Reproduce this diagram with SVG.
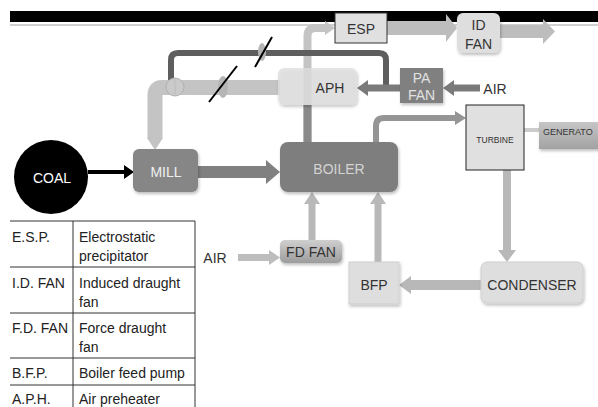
<svg xmlns="http://www.w3.org/2000/svg" width="598" height="407" viewBox="0 0 598 407">
<defs>
<style>
text{font-family:"Liberation Sans",Arial,sans-serif;font-size:14px;fill:#333;text-anchor:middle;dominant-baseline:central}
.tt{text-anchor:start;font-size:14px;fill:#222}
.tl{stroke:#333;stroke-width:1}
</style>
<linearGradient id="gfd" x1="0" y1="0" x2="0" y2="1"><stop offset="0" stop-color="#cfcfcf"/><stop offset="1" stop-color="#9c9c9c"/></linearGradient>
<linearGradient id="ggen" x1="0" y1="0" x2="0" y2="1"><stop offset="0" stop-color="#c6c6c6"/><stop offset="1" stop-color="#a2a2a2"/></linearGradient>
<filter id="sh" x="-20%" y="-20%" width="140%" height="150%"><feDropShadow dx="1" dy="2" stdDeviation="1.5" flood-color="#000" flood-opacity="0.25"/></filter>
</defs>
<rect width="598" height="407" fill="#fff"/>
<rect x="10" y="11" width="588" height="11" fill="#000"/>
<rect x="10" y="24" width="588" height="2" fill="#d0d0d0"/>

<g id="connectors">
<path d="M307.5 142 V36 Q307.5 28 316 28 H326" stroke="#c4c4c4" stroke-width="8" fill="none"/>
<polygon points="325,21 335,28 325,35" fill="#c4c4c4"/>
<rect x="303.5" y="105" width="8" height="38" fill="#8a8a8a"/>
<rect x="387" y="21" width="60" height="14" fill="#bdbdbd"/>
<polygon points="446,14 457,28 446,42" fill="#bdbdbd"/>
<rect x="500" y="25" width="44" height="13" fill="#bdbdbd"/>
<polygon points="543,19 555,31.5 543,44" fill="#bdbdbd"/>
<path d="M386 86 V60 Q386 53 379 53 H178 Q171 53 171 60 V80" stroke="#5e5e5e" stroke-width="6" fill="none"/>
<path d="M280 87.5 H162 Q155 87.5 155 95 V139" stroke="#c4c4c4" stroke-width="15" fill="none"/>
<polygon points="147,138 163,138 155,150" fill="#c4c4c4"/>
<circle cx="175" cy="87" r="9" fill="#cacaca" stroke="#b0b0b0"/>
<line x1="175" y1="79" x2="175" y2="95" stroke="#b8b8b8" stroke-width="0.8"/>
<ellipse cx="223" cy="87" rx="5" ry="11" fill="#b5b5b5"/>
<line x1="209" y1="102" x2="237" y2="66" stroke="#000" stroke-width="2"/>
<ellipse cx="262" cy="52" rx="4" ry="9" fill="#b5b5b5"/>
<line x1="255" y1="67" x2="272" y2="37" stroke="#000" stroke-width="2"/>
<line x1="88" y1="172" x2="126" y2="172" stroke="#000" stroke-width="4"/>
<polygon points="124,165 134,172 124,179" fill="#000"/>
<rect x="198" y="166" width="70" height="12" fill="#808080"/>
<polygon points="266,160 280,172 266,184" fill="#808080"/>
<line x1="400" y1="88" x2="366" y2="88" stroke="#7a7a7a" stroke-width="7"/>
<polygon points="368,80 357,88 368,96" fill="#7a7a7a"/>
<line x1="480" y1="88" x2="452" y2="88" stroke="#7a7a7a" stroke-width="7"/>
<polygon points="454,80 443,88 454,96" fill="#7a7a7a"/>
<path d="M376 143 V126 Q376 118 384 118 H456" stroke="#959595" stroke-width="6" fill="none"/>
<polygon points="455,111 466,118 455,125" fill="#959595"/>
<line x1="515" y1="130" x2="540" y2="130" stroke="#cccccc" stroke-width="4"/>
<line x1="507" y1="170" x2="507" y2="251" stroke="#b8b8b8" stroke-width="8"/>
<polygon points="498,250 516,250 507,262" fill="#b8b8b8"/>
<line x1="482" y1="285" x2="410" y2="285" stroke="#b8b8b8" stroke-width="10"/>
<polygon points="411,276 399,285 411,294" fill="#b8b8b8"/>
<line x1="378" y1="263" x2="378" y2="203" stroke="#b8b8b8" stroke-width="7"/>
<polygon points="370,204 386,204 378,192" fill="#b8b8b8"/>
<line x1="312" y1="241" x2="312" y2="203" stroke="#b8b8b8" stroke-width="7"/>
<polygon points="304,204 320,204 312,192" fill="#b8b8b8"/>
<line x1="238" y1="257.5" x2="270" y2="257.5" stroke="#bdbdbd" stroke-width="7"/>
<polygon points="269,250 280,257.5 269,265" fill="#bdbdbd"/>
</g>

<g id="esp"><rect x="335" y="13" width="52" height="30" fill="#e0e0e0" stroke="#333" stroke-width="1"/><text x="361" y="29">ESP</text></g>
<g id="idfan"><rect x="457" y="13" width="43" height="40" rx="6" fill="#dedede" filter="url(#sh)"/><text x="478.5" y="25">ID</text><text x="478.5" y="44">FAN</text></g>
<g id="aph"><rect x="278" y="68" width="79" height="37" rx="6" fill="#dedede" fill-opacity="0.82" filter="url(#sh)"/><text x="330" y="88">APH</text></g>
<g id="pafan"><rect x="400" y="68" width="43" height="35" fill="#808080" filter="url(#sh)"/><text x="421.5" y="78" style="fill:#e2e2e2">PA</text><text x="421.5" y="95" style="fill:#e2e2e2">FAN</text></g>
<g id="air1"><text x="495" y="89">AIR</text></g>
<g id="coal"><circle cx="51" cy="177" r="37" fill="#000"/><text x="52" y="178" style="fill:#fff">COAL</text></g>
<g id="mill"><rect x="133" y="149" width="65" height="43" rx="6" fill="#868686" filter="url(#sh)"/><text x="166" y="172" style="fill:#f0f0f0">MILL</text></g>
<g id="boiler"><rect x="280" y="142" width="118" height="50" rx="8" fill="#7e7e7e" filter="url(#sh)"/><text x="339" y="169" style="fill:#d4d4d4">BOILER</text></g>
<g id="turbine"><rect x="466" y="105" width="58" height="65" fill="#e0e0e0" stroke="#222" stroke-width="1"/><text x="495" y="140" style="font-size:8.5px">TURBINE</text></g>
<g id="generator"><rect x="539" y="122" width="62" height="27" fill="url(#ggen)" filter="url(#sh)"/><text x="543" y="132" style="text-anchor:start;font-size:9px">GENERATO</text></g>
<g id="condenser"><rect x="481" y="262" width="102" height="41" rx="6" fill="#dedede" stroke="#cfcfcf" filter="url(#sh)"/><text x="532" y="285">CONDENSER</text></g>
<g id="bfp"><rect x="349" y="262" width="50" height="42" fill="#dedede" stroke="#cfcfcf" filter="url(#sh)"/><text x="374" y="285">BFP</text></g>
<g id="fdfan"><rect x="280" y="240" width="62" height="23" rx="5" fill="url(#gfd)" filter="url(#sh)"/><text x="311" y="252">FD FAN</text></g>
<g id="air2"><text x="215" y="258">AIR</text></g>

<g id="legend">
<line class="tl" x1="10" y1="221" x2="195" y2="221"/>
<line class="tl" x1="10" y1="267" x2="195" y2="267"/>
<line class="tl" x1="10" y1="313" x2="195" y2="313"/>
<line class="tl" x1="10" y1="358" x2="195" y2="358"/>
<line class="tl" x1="10" y1="385" x2="195" y2="385"/>
<line class="tl" x1="73" y1="221" x2="73" y2="407"/>
<line class="tl" x1="195" y1="221" x2="195" y2="407"/>
<text class="tt" x="12" y="237">E.S.P.</text>
<text class="tt" x="79" y="237">Electrostatic</text>
<text class="tt" x="79" y="256">precipitator</text>
<text class="tt" x="12" y="283">I.D. FAN</text>
<text class="tt" x="79" y="283">Induced draught</text>
<text class="tt" x="79" y="302">fan</text>
<text class="tt" x="12" y="328">F.D. FAN</text>
<text class="tt" x="79" y="328">Force draught</text>
<text class="tt" x="79" y="347">fan</text>
<text class="tt" x="12" y="373">B.F.P.</text>
<text class="tt" x="79" y="373">Boiler feed pump</text>
<text class="tt" x="12" y="399">A.P.H.</text>
<text class="tt" x="79" y="399">Air preheater</text>
</g>
</svg>
